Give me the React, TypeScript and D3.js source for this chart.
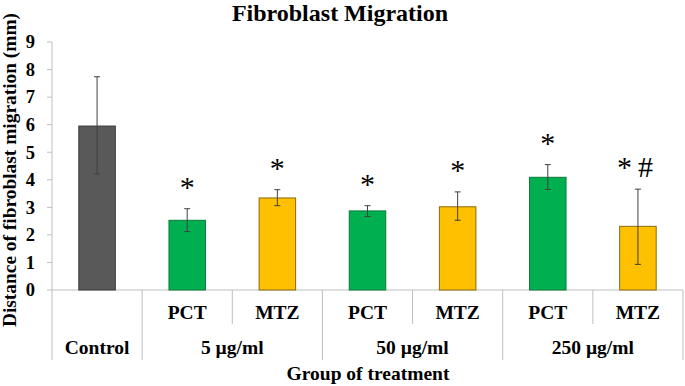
import React, { useEffect, useRef } from "react";
import * as d3 from "d3";

// bars, left to right
const categories = ["Control", "PCT 5", "MTZ 5", "PCT 50", "MTZ 50", "PCT 250", "MTZ 250"];
const subLabels = ["", "PCT", "MTZ", "PCT", "MTZ", "PCT", "MTZ"];
const means = [5.95, 2.53, 3.34, 2.87, 3.02, 4.09, 2.31];
const errLow = [4.21, 2.12, 3.06, 2.67, 2.53, 3.65, 0.93];
const errHigh = [7.74, 2.95, 3.64, 3.06, 3.56, 4.55, 3.66];
const marks = ["", "*", "*", "*", "*", "*", "*#"];
const kinds = ["control", "pct", "mtz", "pct", "mtz", "pct", "mtz"];

const groups = ["Control", "5 µg/ml", "50 µg/ml", "250 µg/ml"];
const groupSpans = [1, 2, 2, 2];
const yTicks = [0, 1, 2, 3, 4, 5, 6, 7, 8, 9];

const fills: Record<string, string> = { control: "#595959", pct: "#00B050", mtz: "#FFC000" };
const strokes: Record<string, string> = { control: "#3a3a3a", pct: "#0b7a3b", mtz: "#8a6a10" };

const W = 685;
const H = 386;
const FONT = "'Liberation Serif', 'Times New Roman', serif";

const App = () => {
  const ref = useRef<SVGSVGElement>(null);

  useEffect(() => {
    const svg = d3.select(ref.current);
    svg.selectAll("*").remove();

    const left = 52, right = 683, top = 42, base = 290;
    const x = d3.scaleBand().domain(categories).range([left, right]).padding(0);
    const y = d3.scaleLinear().domain([0, 9]).range([base, top]);
    const bw = x.bandwidth() * 0.405;
    const grid = "#bfbfbf";
    const fs = 19.5;

    svg.append("text")
      .attr("x", 340).attr("y", 21)
      .attr("text-anchor", "middle")
      .attr("font-weight", "bold").attr("font-size", 24)
      .text("Fibroblast Migration");

    // y axis
    svg.append("line").attr("x1", left).attr("x2", left).attr("y1", top).attr("y2", 360)
      .attr("stroke", grid);
    const ty = svg.append("g").selectAll("g").data(yTicks).join("g")
      .attr("transform", d => `translate(0,${y(d)})`);
    ty.append("line").attr("x1", left - 5).attr("x2", left).attr("stroke", grid);
    ty.append("text")
      .attr("x", 35).attr("dy", "0.34em")
      .attr("text-anchor", "end")
      .attr("font-weight", "bold").attr("font-size", 18.5)
      .text(d => d);

    svg.append("text")
      .attr("transform", `translate(15.5,170) rotate(-90)`)
      .attr("text-anchor", "middle")
      .attr("font-weight", "bold").attr("font-size", 19.4)
      .text("Distance of fibroblast migration (mm)");

    // x axis, two levels
    svg.append("line").attr("x1", left).attr("x2", right).attr("y1", base).attr("y2", base)
      .attr("stroke", grid);
    let idx = 0;
    groupSpans.forEach((span, gi) => {
      const x0 = x(categories[idx])!;
      const x1 = x0 + span * x.bandwidth();
      svg.append("line").attr("x1", x1).attr("x2", x1).attr("y1", base).attr("y2", 360)
        .attr("stroke", grid);
      for (let k = 1; k < span; k++) {
        const xs = x0 + k * x.bandwidth();
        svg.append("line").attr("x1", xs).attr("x2", xs).attr("y1", base).attr("y2", 324)
          .attr("stroke", grid);
      }
      svg.append("text")
        .attr("x", (x0 + x1) / 2).attr("y", 354)
        .attr("text-anchor", "middle")
        .attr("font-weight", "bold").attr("font-size", fs)
        .text(groups[gi]);
      idx += span;
    });
    svg.append("g").selectAll("text").data(categories).join("text")
      .attr("x", d => x(d)! + x.bandwidth() / 2).attr("y", 319)
      .attr("text-anchor", "middle")
      .attr("font-weight", "bold").attr("font-size", fs)
      .text((d, i) => subLabels[i]);

    svg.append("text")
      .attr("x", 368).attr("y", 380)
      .attr("text-anchor", "middle")
      .attr("font-weight", "bold").attr("font-size", fs)
      .text("Group of treatment");

    // bars
    svg.append("g").selectAll("rect").data(categories).join("rect")
      .attr("x", d => x(d)! + (x.bandwidth() - bw) / 2)
      .attr("y", (d, i) => y(means[i]))
      .attr("width", bw)
      .attr("height", (d, i) => base - y(means[i]))
      .attr("fill", (d, i) => fills[kinds[i]])
      .attr("stroke", (d, i) => strokes[kinds[i]])
      .attr("stroke-width", 1);

    // error bars
    const eb = svg.append("g").attr("stroke", "#404040").attr("stroke-width", 1)
      .selectAll("g").data(categories).join("g")
      .attr("transform", d => `translate(${x(d)! + x.bandwidth() / 2},0)`);
    eb.append("line").attr("y1", (d, i) => y(errLow[i])).attr("y2", (d, i) => y(errHigh[i]));
    eb.append("line").attr("x1", -3).attr("x2", 3).attr("y1", (d, i) => y(errLow[i])).attr("y2", (d, i) => y(errLow[i]));
    eb.append("line").attr("x1", -3).attr("x2", 3).attr("y1", (d, i) => y(errHigh[i])).attr("y2", (d, i) => y(errHigh[i]));

    // significance marks
    svg.append("g").selectAll("text").data(categories).join("text")
      .attr("x", d => x(d)! + x.bandwidth() / 2)
      .attr("y", (d, i) => y(errHigh[i]) - 12)
      .attr("text-anchor", "middle")
      .attr("font-size", 30)
      .attr("letter-spacing", (d, i) => (marks[i].length > 1 ? 6 : 0))
      .text((d, i) => marks[i]);
  }, []);

  return (
    <svg ref={ref} width={W} height={H} viewBox={`0 0 ${W} ${H}`}
      style={{ position: "absolute", left: 0, top: 0, fontFamily: FONT, background: "#fff" }} />
  );
};

export default App;
